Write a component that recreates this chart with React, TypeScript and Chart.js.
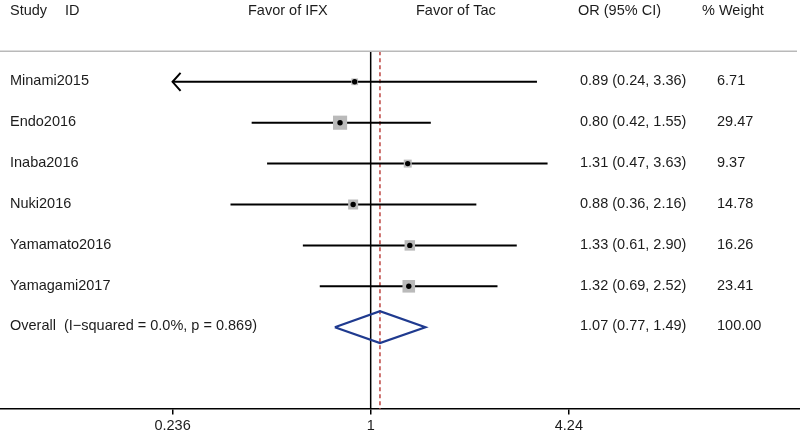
import { useEffect, useRef } from "react";
import { Chart, registerables } from "chart.js";

Chart.register(...registerables);

const studies = ["Minami2015", "Endo2016", "Inaba2016", "Nuki2016", "Yamamato2016", "Yamagami2017"];
const orValues = [0.89, 0.8, 1.31, 0.88, 1.33, 1.32];
const ciLower = [0.24, 0.42, 0.47, 0.36, 0.61, 0.69];
const ciUpper = [3.36, 1.55, 3.63, 2.16, 2.9, 2.52];
const weights = [6.71, 29.47, 9.37, 14.78, 16.26, 23.41];
const arrowLeft = [true, false, false, false, false, false];

const overallLabel = "Overall  (I\u2212squared = 0.0%, p = 0.869)";
const overallOr = 1.07;
const overallLower = 0.77;
const overallUpper = 1.49;
const overallWeight = 100.0;

const headerTexts = ["Study", "ID", "Favor of IFX", "Favor of Tac", "OR (95% CI)", "% Weight"];
const tickValues = [0.236, 1, 4.24];
const tickLabels = ["0.236", "1", "4.24"];
const plotLowerLimit = 0.236;

const FONT = "'Liberation Sans', Arial, Helvetica, sans-serif";
const TEXT_COLOR = "#1c1c1c";

export default function App() {
  const ref = useRef<HTMLCanvasElement | null>(null);

  useEffect(() => {
    document.body.style.margin = "0";
    document.body.style.overflow = "hidden";
    const canvas = ref.current;
    if (!canvas) return;

    const overallRow = studies.length;
    const topLineRow = -0.75;
    const bottomRow = 8;
    const headerRow = -1.74;

    const ciDatasets = studies.map((s, i) => ({
      label: s + " CI",
      data: [
        { x: arrowLeft[i] ? plotLowerLimit : ciLower[i], y: i },
        { x: ciUpper[i], y: i },
      ],
      showLine: true,
      borderColor: "#000",
      borderWidth: 2,
      pointRadius: 0,
      order: 4,
    }));

    const squareSide = (w: number) => 2.6 * Math.sqrt(w);

    const textPlugin = {
      id: "forestText",
      afterDatasetsDraw(chart: any) {
        const ctx = chart.ctx;
        const xs = chart.scales.x;
        const ys = chart.scales.y;
        const area = chart.chartArea;
        ctx.save();
        // top separator line
        const yTop = ys.getPixelForValue(topLineRow);
        ctx.strokeStyle = "#b9b9b9";
        ctx.lineWidth = 1.5;
        ctx.beginPath();
        ctx.moveTo(area.left, yTop);
        ctx.lineTo(area.right - 3, yTop);
        ctx.stroke();

        // arrows
        ctx.strokeStyle = "#000";
        ctx.lineWidth = 2;
        studies.forEach((_, i) => {
          if (!arrowLeft[i]) return;
          const tx = xs.getPixelForValue(plotLowerLimit);
          const ty = ys.getPixelForValue(i);
          ctx.beginPath();
          ctx.moveTo(tx + 8, ty - 9);
          ctx.lineTo(tx, ty);
          ctx.lineTo(tx + 8, ty + 9);
          ctx.stroke();
        });

        // texts
        ctx.fillStyle = TEXT_COLOR;
        ctx.font = `14.5px ${FONT}`;
        ctx.textBaseline = "middle";
        ctx.textAlign = "left";
        const hy = ys.getPixelForValue(headerRow);
        const headerX = [10, 65, 248, 416, 578, 702];
        headerTexts.forEach((t, i) => ctx.fillText(t, headerX[i], hy));

        studies.forEach((s, i) => {
          const y = ys.getPixelForValue(i) - 0.5;
          ctx.fillText(s, 10, y);
          ctx.fillText(
            `${orValues[i].toFixed(2)} (${ciLower[i].toFixed(2)}, ${ciUpper[i].toFixed(2)})`,
            580,
            y
          );
          ctx.fillText(weights[i].toFixed(2), 717, y);
        });
        const oy = ys.getPixelForValue(overallRow) - 1;
        ctx.fillText(overallLabel, 10, oy);
        ctx.fillText(
          `${overallOr.toFixed(2)} (${overallLower.toFixed(2)}, ${overallUpper.toFixed(2)})`,
          580,
          oy
        );
        ctx.fillText(overallWeight.toFixed(2), 717, oy);
        ctx.restore();
      },
    };

    const chart = new Chart(canvas, {
      type: "scatter",
      data: {
        datasets: [
          {
            label: "points",
            data: studies.map((_, i) => ({ x: orValues[i], y: i })),
            pointStyle: "circle",
            pointRadius: 2.7,
            backgroundColor: "#000",
            borderWidth: 0,
            order: 0,
          },
          {
            label: "weights",
            data: studies.map((_, i) => ({ x: orValues[i], y: i })),
            pointStyle: "rect",
            pointRadius: weights.map((w) => squareSide(w) / Math.SQRT2),
            backgroundColor: "#bababa",
            borderWidth: 0,
            order: 1,
          },
          {
            label: "overall",
            data: [
              { x: overallLower, y: overallRow },
              { x: overallOr, y: overallRow - 0.39 },
              { x: overallUpper, y: overallRow },
              { x: overallOr, y: overallRow + 0.39 },
              { x: overallLower, y: overallRow },
            ],
            showLine: true,
            borderColor: "#1f3a8f",
            borderWidth: 2.2,
            pointRadius: 0,
            order: 2,
          },
          ...ciDatasets,
          {
            label: "overall effect",
            data: [
              { x: overallOr, y: topLineRow },
              { x: overallOr, y: bottomRow },
            ],
            showLine: true,
            borderColor: "#c0504d",
            borderWidth: 1.6,
            borderDash: [4, 3],
            pointRadius: 0,
            order: 5,
          },
          {
            label: "null",
            data: [
              { x: 1, y: topLineRow },
              { x: 1, y: bottomRow },
            ],
            showLine: true,
            borderColor: "#000",
            borderWidth: 1.5,
            pointRadius: 0,
            order: 6,
          },
        ],
      },
      options: {
        animation: false,
        responsive: false,
        devicePixelRatio: 1,
        events: [],
        layout: { padding: 0, autoPadding: false },
        plugins: { legend: { display: false }, tooltip: { enabled: false } },
        scales: {
          x: {
            type: "logarithmic",
            min: 0.0671,
            max: 22.85,
            afterBuildTicks: (scale: any) => {
              scale.ticks = tickValues.map((v) => ({ value: v }));
            },
            grid: {
              display: true,
              drawOnChartArea: false,
              drawTicks: true,
              tickLength: 8,
              tickBorderDash: [5, 60],
              tickColor: "#000",
              tickWidth: 1.5,
              color: "#000",
              lineWidth: 1.5,
            },
            border: { display: true, color: "#000", width: 1.5 },
            ticks: {
              autoSkip: false,
              maxRotation: 0,
              padding: 0.3,
              color: TEXT_COLOR,
              font: { family: FONT, size: 14.5 },
              callback: (_v: any, idx: number) => tickLabels[idx],
            },
          },
          y: {
            type: "linear",
            min: -2,
            max: bottomRow,
            reverse: true,
            display: false,
          },
        },
      },
      plugins: [textPlugin],
    } as any);

    return () => chart.destroy();
  }, []);

  return (
    <div style={{ width: 800, height: 435 }}>
      <canvas ref={ref} width={800} height={435} style={{ display: "block" }} />
    </div>
  );
}
